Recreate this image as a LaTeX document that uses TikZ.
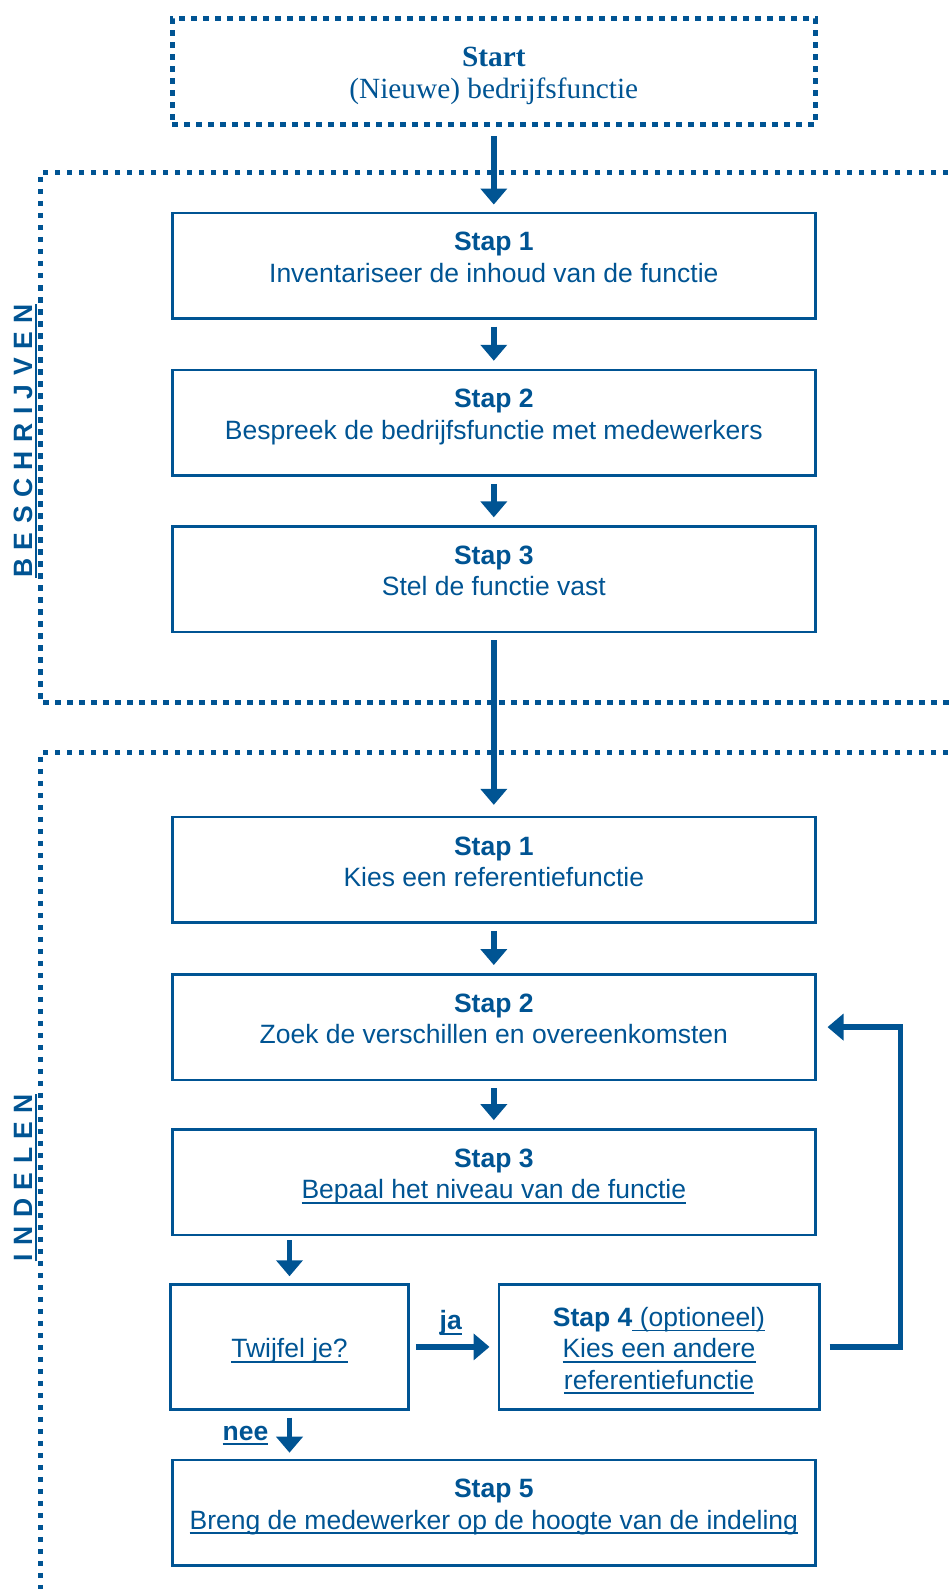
\documentclass[tikz,border=0pt]{standalone}
\usepackage{fontspec}
\setmainfont{Liberation Sans}
\newfontfamily\serifx{Liberation Serif}
\usetikzlibrary{arrows.meta,calc}
\definecolor{dblue}{RGB}{0,84,147}
\newcommand{\myul}[1]{\setbox0\hbox{#1}\rlap{\rule[-5pt]{\wd0}{1.8pt}}\box0}
\newcommand{\gk}{\kern8.5pt}
\tikzset{
  box/.style={draw=dblue, line width=2.6pt, minimum width=642.8pt, minimum height=105.5pt, inner sep=0pt},
  txt/.style={align=center, text=dblue, inner sep=0pt, font=\fontsize{26.5}{31.4}\selectfont},
  stxt/.style={align=center, text=dblue, inner sep=0pt, font=\serifx\fontsize{29.3}{32.4}\selectfont},
  dotline/.style={draw=dblue, line width=5.3pt, dash pattern=on 5.5pt off 6.5pt},
  arr/.style={draw=dblue, line width=5.5pt, -{Triangle[width=26pt,length=16pt]}},
  lbl/.style={text=dblue, inner sep=0pt, font=\bfseries\fontsize{26.5}{31.4}\selectfont},
  side/.style={text=dblue, inner sep=0pt, rotate=90, anchor=base, font=\bfseries\fontsize{26.5}{31.4}\selectfont}
}
\begin{document}
\begin{tikzpicture}[x=1pt,y=-1pt]
\useasboundingbox (0,0) rectangle (950,1589);
% regions
\draw[dotline] (960,172.4) -- (40.6,172.4) -- (40.6,702.6) -- (960,702.6);
\draw[dotline] (960,752.3) -- (40.6,752.3) -- (40.6,1600);
% side labels
\node[side] (lb) at (32,441) {\myul{B\gk E\gk S\gk C\gk H\gk R\gk I\gk J\gk V\gk E\gk N}};
\node[side] (li) at (32,1177.6) {\myul{I\gk N\gk D\gk E\gk L\gk E\gk N}};
% start
\node[dotline, minimum width=642.8pt, minimum height=106.5pt, inner sep=0pt] (st) at (493.8,71.5) {};
\node[stxt, yshift=-4.7pt] (tst) at (st) {\textbf{Start}\strut\\(Nieuwe) bedrijfsfunctie\strut};
% beschrijven
\node[box] (b1) at (493.8,265.6) {};
\node[txt, yshift=5.4pt] (tb1) at (b1) {\textbf{Stap 1}\strut\\Inventariseer de inhoud van de functie\strut};
\node[box] (b2) at (493.8,422.8) {};
\node[txt, yshift=5.4pt] (tb2) at (b2) {\textbf{Stap 2}\strut\\Bespreek de bedrijfsfunctie met medewerkers\strut};
\node[box] (b3) at (493.8,579.4) {};
\node[txt, yshift=5.4pt] (tb3) at (b3) {\textbf{Stap 3}\strut\\Stel de functie vast\strut};
% indelen
\node[box] (i1) at (493.8,869.9) {};
\node[txt, yshift=5.4pt] (ti1) at (i1) {\textbf{Stap 1}\strut\\Kies een referentiefunctie\strut};
\node[box] (i2) at (493.8,1027.1) {};
\node[txt, yshift=5.4pt] (ti2) at (i2) {\textbf{Stap 2}\strut\\Zoek de verschillen en overeenkomsten\strut};
\node[box] (i3) at (493.8,1182.2) {};
\node[txt, yshift=5.4pt] (ti3) at (i3) {\textbf{Stap 3}\strut\\\myul{Bepaal het niveau van de functie}\strut};
\node[box, minimum width=238.3pt, minimum height=124.7pt] (tw) at (289.5,1346.9) {};
\node[txt, yshift=-4.8pt] (ttw) at (tw) {\myul{Twijfel je?}\strut};
\node[box, minimum width=320.4pt, minimum height=124.7pt] (s4) at (659,1346.9) {};
\node[txt, yshift=-4.7pt] (ts4) at (s4) {\textbf{Stap 4}\myul{\ (optioneel)}\strut\\\myul{Kies een andere}\strut\\\myul{referentiefunctie}\strut};
\node[box, minimum height=105.4pt] (s5) at (493.8,1512.7) {};
\node[txt, yshift=5.4pt] (ts5) at (s5) {\textbf{Stap 5}\strut\\\myul{Breng de medewerker op de hoogte van de indeling}\strut};
% arrows
\draw[arr, shorten <=9pt, shorten >=7pt] (st) -- (b1);
\draw[arr, shorten <=7pt, shorten >=8pt] (b1) -- (b2);
\draw[arr, shorten <=7pt, shorten >=8pt] (b2) -- (b3);
\draw[arr, shorten <=7pt, shorten >=11pt] (b3) -- (i1);
\draw[arr, shorten <=7pt, shorten >=8pt] (i1) -- (i2);
\draw[arr, shorten <=7pt, shorten >=8pt] (i2) -- (i3);
\draw[arr, shorten <=4pt, shorten >=7pt] (i3.south -| tw.north) -- (tw.north);
\draw[arr, shorten <=6pt, shorten >=8pt] (tw.east) -- node[lbl, midway, anchor=base, xshift=-3pt, yshift=17pt] (ja) {\myul{ja}} (s4.west);
\draw[arr, shorten <=7pt, shorten >=6pt] (tw.south) -- node[lbl, midway, anchor=east, xshift=-18.5pt, yshift=-1pt] (nee) {\myul{nee}} (tw.south |- s5.north);
\coordinate (lx) at (900.3,0);
\draw[arr, shorten <=9pt, shorten >=11pt] (s4.east) -- (s4.east -| lx) |- (i2.east);
\end{tikzpicture}
\end{document}
